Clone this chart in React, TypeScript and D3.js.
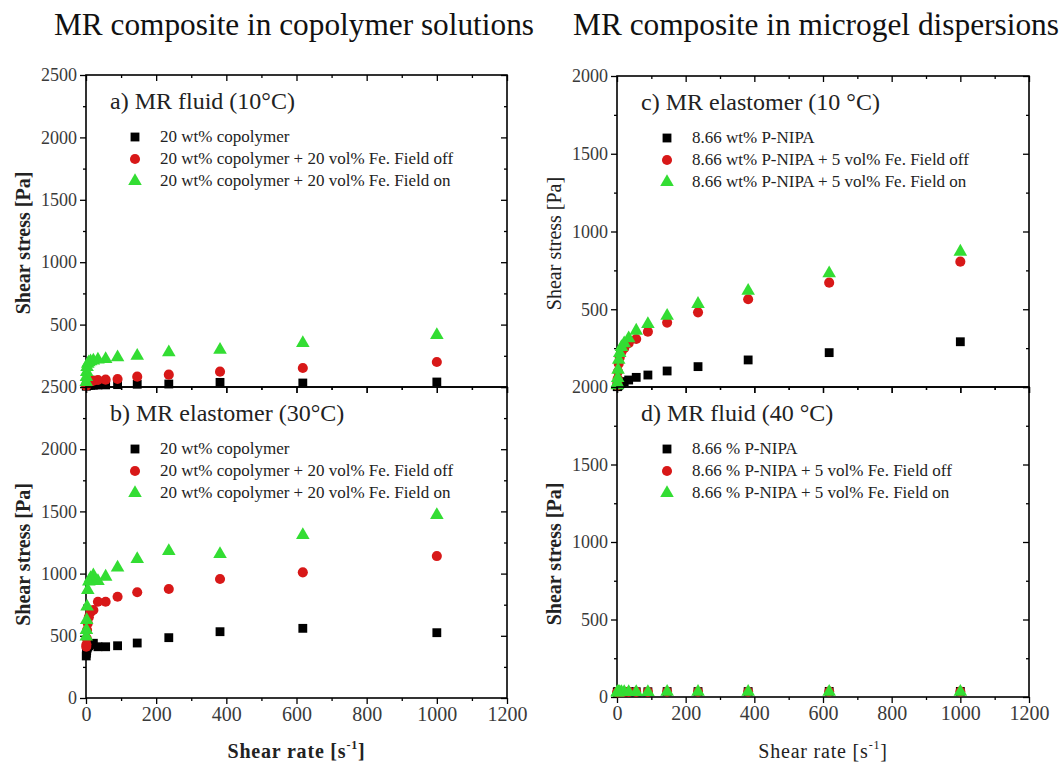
import React, { useEffect, useRef } from 'react';
import * as d3 from 'd3';

// shear rate steps (s^-1), same for every series
const shearRate = [1000, 618, 382, 236, 146, 90, 56, 34, 21, 13, 8, 5, 3, 2, 1.2, 0.7];

// a) MR fluid (10°C) – copolymer solution
const aBlack = [40, 32, 37, 24, 22, 19, 17, 16, 15, 14, 13, 12, 11, 10, 9, 8];
const aRed = [200, 152, 123, 99, 83, 64, 59, 56, 51, 43, 38, 30, 24, 18, 14, 10];
const aGreen = [416, 352, 298, 277, 250, 237, 224, 219, 212, 205, 198, 185, 160, 120, 80, 40];

// b) MR elastomer (30°C)
const bBlack = [525, 560, 533, 485, 442, 420, 412, 412, 440, 430, 420, 410, 400, 380, 360, 338];
const bRed = [1141, 1010, 957, 876, 850, 814, 774, 774, 707, 690, 650, 600, 547, 480, 430, 412];
const bGreen = [1471, 1310, 1157, 1181, 1117, 1048, 975, 940, 985, 964, 935, 868, 734, 627, 547, 493];

// c) MR elastomer (10 °C) – microgel dispersion
const cBlack = [291, 221, 174, 131, 103, 77, 62, 45, 35, 25, 18, 12, 8, 5, 3, 2];
const cRed = [806, 671, 564, 480, 414, 356, 309, 281, 250, 225, 190, 150, 100, 55, 25, 10];
const cGreen = [870, 731, 619, 534, 457, 405, 362, 313, 281, 256, 218, 175, 111, 58, 26, 10];

// d) MR fluid (40 °C) – black and red sit under the green triangles
const dBlack = [36, 36, 35, 35, 35, 34, 34, 34, 34, 33, 33, 33, 32, 32, 32, 32];
const dRed = [35, 35, 34, 34, 34, 33, 33, 33, 33, 32, 32, 32, 31, 31, 31, 31];
const dGreen = [34, 34, 33, 33, 33, 32, 32, 32, 32, 31, 31, 31, 30, 30, 30, 30];

const legendCopolymer = [
  '20 wt% copolymer',
  '20 wt% copolymer + 20 vol% Fe. Field off',
  '20 wt% copolymer + 20 vol% Fe. Field on',
];
const legendMicrogelC = [
  '8.66 wt% P-NIPA',
  '8.66 wt% P-NIPA + 5 vol% Fe. Field off',
  '8.66 wt% P-NIPA + 5 vol% Fe. Field on',
];
const legendMicrogelD = [
  '8.66 % P-NIPA',
  '8.66 % P-NIPA + 5 vol% Fe. Field off',
  '8.66 % P-NIPA + 5 vol% Fe. Field on',
];

const xTicks = [0, 200, 400, 600, 800, 1000, 1200];
const xMinor = [100, 300, 500, 700, 900, 1100];

const FONT = '"Liberation Serif", "Times New Roman", serif';
const COLORS = ['#000000', '#d81818', '#33dd33'];

const panels = [
  { id: 'a', label: 'a) MR fluid (10\u00B0C)', series: [aBlack, aRed, aGreen], legend: legendCopolymer,
    left: 86, right: 507, top: 75, bottom: 387, yMax: 2500, bottomAxis: false, yBold: true, legX: 135 },
  { id: 'b', label: 'b) MR elastomer (30\u00B0C)', series: [bBlack, bRed, bGreen], legend: legendCopolymer,
    left: 86, right: 507, top: 387, bottom: 698, yMax: 2500, bottomAxis: true, yBold: true, legX: 135 },
  { id: 'c', label: 'c) MR elastomer (10 \u00B0C)', series: [cBlack, cRed, cGreen], legend: legendMicrogelC,
    left: 617, right: 1029, top: 76, bottom: 387, yMax: 2000, bottomAxis: false, yBold: false, legX: 667 },
  { id: 'd', label: 'd) MR fluid (40 \u00B0C)', series: [dBlack, dRed, dGreen], legend: legendMicrogelD,
    left: 617, right: 1029, top: 387, bottom: 697, yMax: 2000, bottomAxis: true, yBold: true, legX: 667 },
];

const symbolFor = (i: number) => {
  if (i === 0) return d3.symbol(d3.symbolSquare, 78)();
  if (i === 1) return d3.symbol(d3.symbolCircle, 80)();
  return d3.symbol(d3.symbolTriangle, 80)();
};

export default function App() {
  const svgRef = useRef<SVGSVGElement>(null);

  useEffect(() => {
    const svg = d3.select(svgRef.current);
    svg.selectAll('*').remove();
    svg.style('font-family', FONT);

    // column titles
    svg.append('text').attr('x', 54).attr('y', 35).text('MR composite in copolymer solutions')
      .style('font-family', FONT).attr('font-size', 31).attr('fill', '#111')
      .attr('textLength', 480).attr('lengthAdjust', 'spacingAndGlyphs');
    svg.append('text').attr('x', 573).attr('y', 35).text('MR composite in microgel dispersions')
      .style('font-family', FONT).attr('font-size', 31).attr('fill', '#111')
      .attr('textLength', 486).attr('lengthAdjust', 'spacingAndGlyphs');

    panels.forEach(p => {
      const x = d3.scaleLinear().domain([0, 1200]).range([p.left, p.right]);
      const y = d3.scaleLinear().domain([0, p.yMax]).range([p.bottom, p.top]);
      const yTicks = d3.range(0, p.yMax + 1, 500);
      const yMinor = d3.range(250, p.yMax, 500);
      const g = svg.append('g').attr('class', 'panel-' + p.id);

      const styleAxis = (sel: any, size: number) => {
        sel.attr('font-family', null);
        sel.select('.domain').remove();
        sel.selectAll('line').attr('stroke', '#000').attr('stroke-width', 1.3);
        sel.selectAll('text').style('font-family', FONT).attr('font-size', size).attr('fill', '#3a3a3a');
      };

      // left axis (labels), top panels hide their 0
      g.append('g').attr('transform', `translate(${p.left},0)`)
        .call(d3.axisLeft(y).tickValues(yTicks).tickSize(6).tickPadding(3).tickSizeOuter(0)
          .tickFormat((d: any) => (!p.bottomAxis && d === 0 ? '' : String(d))))
        .call((s: any) => styleAxis(s, 18));
      g.append('g').attr('transform', `translate(${p.left},0)`)
        .call(d3.axisLeft(y).tickValues(yMinor).tickSize(3).tickFormat(() => '').tickSizeOuter(0))
        .call((s: any) => styleAxis(s, 18));
      // right axis, ticks inward
      [[yTicks, 6], [yMinor, 3]].forEach(([vals, sz]: any) => {
        g.append('g').attr('transform', `translate(${p.right},0)`)
          .call(d3.axisRight(y).tickValues(vals).tickSize(-sz).tickFormat(() => '').tickSizeOuter(0))
          .call((s: any) => styleAxis(s, 18));
      });
      // top axis, ticks inward
      [[xTicks, 6], [xMinor, 3]].forEach(([vals, sz]: any) => {
        g.append('g').attr('transform', `translate(0,${p.top})`)
          .call(d3.axisTop(x).tickValues(vals).tickSize(-sz).tickFormat(() => '').tickSizeOuter(0))
          .call((s: any) => styleAxis(s, 18));
      });
      // bottom axis, ticks outward
      g.append('g').attr('transform', `translate(0,${p.bottom})`)
        .call(d3.axisBottom(x).tickValues(xTicks).tickSize(6).tickPadding(3).tickSizeOuter(0)
          .tickFormat((d: any) => (p.bottomAxis ? String(d) : '')))
        .call((s: any) => styleAxis(s, 20));
      g.append('g').attr('transform', `translate(0,${p.bottom})`)
        .call(d3.axisBottom(x).tickValues(xMinor).tickSize(3).tickFormat(() => '').tickSizeOuter(0))
        .call((s: any) => styleAxis(s, 20));

      // frame
      g.append('rect')
        .attr('x', p.left).attr('y', p.top)
        .attr('width', p.right - p.left).attr('height', p.bottom - p.top)
        .attr('fill', 'none').attr('stroke', '#000').attr('stroke-width', 1.6);

      // data points: black, red, then green on top
      p.series.forEach((vals, si) => {
        g.append('g').selectAll('path')
          .data(vals.map((v, i) => [shearRate[i], v]))
          .join('path')
          .attr('d', symbolFor(si))
          .attr('transform', d => `translate(${x(d[0])},${y(d[1])})`)
          .attr('fill', COLORS[si]);
      });

      // panel label
      g.append('text').attr('x', p.left + 24).attr('y', p.top + 34).text(p.label)
        .style('font-family', FONT).attr('font-size', 24).attr('fill', '#222');

      // legend
      p.legend.forEach((name, i) => {
        const cy = p.top + 62 + i * 22;
        g.append('path').attr('d', symbolFor(i))
          .attr('transform', `translate(${p.legX},${cy})`)
          .attr('fill', COLORS[i]);
        g.append('text').attr('x', p.legX + 25).attr('y', cy + 5).text(name)
          .style('font-family', FONT).attr('font-size', 17).attr('fill', '#222');
      });

      // y title
      const yc = (p.top + p.bottom) / 2 + 12;
      g.append('text')
        .attr('transform', `translate(${p.left - 56},${yc}) rotate(-90)`)
        .attr('text-anchor', 'middle')
        .style('font-family', FONT).attr('font-size', 20)
        .attr('font-weight', p.yBold ? 'bold' : 'normal')
        .attr('fill', '#222')
        .text('Shear stress [Pa]');

      // x title
      if (p.bottomAxis) {
        const t = g.append('text')
          .attr('x', (p.left + p.right) / 2).attr('y', 758)
          .attr('text-anchor', 'middle')
          .style('font-family', FONT).attr('font-size', 20)
          .attr('font-weight', p.id === 'b' ? 'bold' : 'normal')
          .attr('letter-spacing', 0.8)
          .attr('fill', '#222');
        t.append('tspan').text('Shear rate [s');
        t.append('tspan').text('-1').attr('font-size', 12).attr('dy', -9);
        t.append('tspan').text(']').attr('dy', 9);
      }
    });
  }, []);

  return (
    <div style={{ position: 'absolute', left: 0, top: 0, background: '#fff' }}>
      <svg ref={svgRef} width={1061} height={764} style={{ display: 'block', background: '#fff' }} />
    </div>
  );
}
